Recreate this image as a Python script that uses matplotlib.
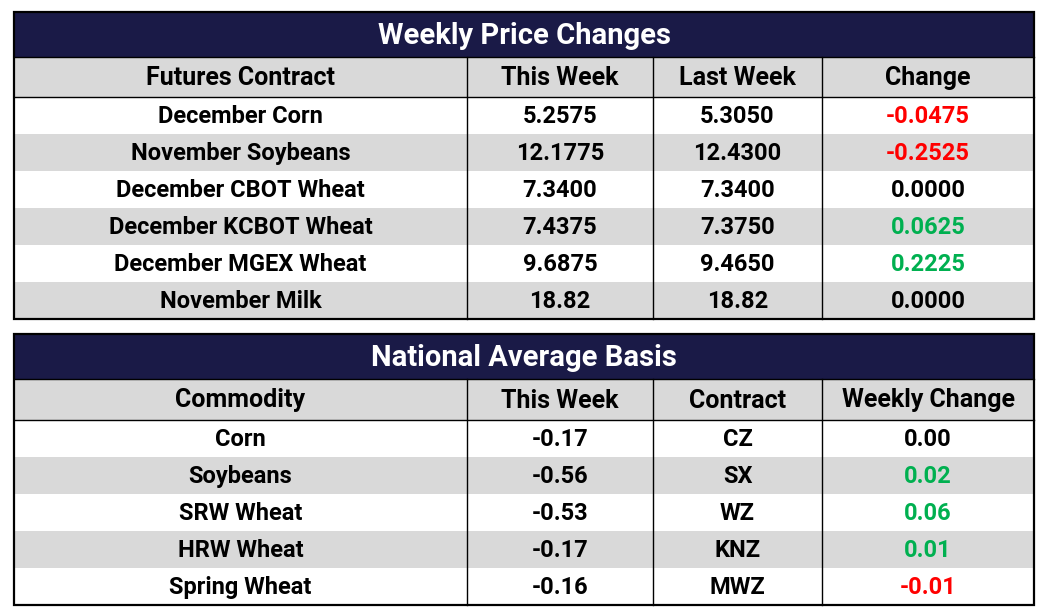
import matplotlib
matplotlib.use('Agg')
import matplotlib.pyplot as plt
from matplotlib.patches import Rectangle
from matplotlib import font_manager

NAVY  = '#1a1a47'
GRAY  = '#d9d9d9'
RED   = '#ff0000'
GREEN = '#00b050'

## table 1: weekly price changes
price_title   = 'Weekly Price Changes'
price_header  = ['Futures Contract', 'This Week', 'Last Week', 'Change']
contracts     = ['December Corn', 'November Soybeans', 'December CBOT Wheat',
                 'December KCBOT Wheat', 'December MGEX Wheat', 'November Milk']
this_week     = ['5.2575', '12.1775', '7.3400', '7.4375', '9.6875', '18.82']
last_week     = ['5.3050', '12.4300', '7.3400', '7.3750', '9.4650', '18.82']
price_change  = ['-0.0475', '-0.2525', '0.0000', '0.0625', '0.2225', '0.0000']

## table 2: national average basis
basis_title   = 'National Average Basis'
basis_header  = ['Commodity', 'This Week', 'Contract', 'Weekly Change']
commodities   = ['Corn', 'Soybeans', 'SRW Wheat', 'HRW Wheat', 'Spring Wheat']
basis_now     = ['-0.17', '-0.56', '-0.53', '-0.17', '-0.16']
basis_contract= ['CZ', 'SX', 'WZ', 'KNZ', 'MWZ']
basis_change  = ['0.00', '0.02', '0.06', '0.01', '-0.01']

names = {f.name for f in font_manager.fontManager.ttflist}
FONT = 'Liberation Sans Narrow' if 'Liberation Sans Narrow' in names else 'Roboto'

COL_X = [14, 467, 653, 822, 1034]

def change_color(v):
    x = float(v)
    if x > 0:
        return GREEN
    if x < 0:
        return RED
    return 'black'

def draw_table(ax, top, title, header, rows, title_h=45, head_h=40, row_h=37):
    x0, x1 = COL_X[0], COL_X[-1]
    n = len(rows)
    bottom = top + title_h + head_h + n*row_h
    # title band
    ax.add_patch(Rectangle((x0, top), x1-x0, title_h, color=NAVY, lw=0))
    ax.text((x0+x1)/2, top+title_h/2+1, title, color='white', fontsize=21,
            fontweight='bold', family=FONT, ha='center', va='center')
    # header band
    y = top + title_h
    ax.add_patch(Rectangle((x0, y), x1-x0, head_h, color=GRAY, lw=0))
    for i, h in enumerate(header):
        ax.text((COL_X[i]+COL_X[i+1])/2, y+head_h/2+1, h, fontsize=18,
                fontweight='bold', family=FONT, ha='center', va='center')
    # data rows
    y += head_h
    for r, row in enumerate(rows):
        yy = y + r*row_h
        if r % 2 == 1:
            ax.add_patch(Rectangle((x0, yy), x1-x0, row_h, color=GRAY, lw=0))
        for i, val in enumerate(row):
            c = change_color(val) if i == 3 else 'black'
            ax.text((COL_X[i]+COL_X[i+1])/2, yy+row_h/2+1, val, fontsize=17,
                    fontweight='bold', family=FONT, color=c, ha='center', va='center')
    # lines
    ax.plot([x0, x1], [top+title_h]*2, color='black', lw=1)
    ax.plot([x0, x1], [top+title_h+head_h]*2, color='black', lw=1)
    for cx in COL_X[1:-1]:
        ax.plot([cx, cx], [top+title_h, bottom], color='black', lw=1)
    ax.add_patch(Rectangle((x0, top), x1-x0, bottom-top, fill=False,
                           edgecolor='black', lw=1.6))

fig = plt.figure(figsize=(10.48, 6.16), dpi=100)
ax = fig.add_axes([0, 0, 1, 1])
ax.set_xlim(0, 1048)
ax.set_ylim(616, 0)
ax.axis('off')

price_rows = list(zip(contracts, this_week, last_week, price_change))
basis_rows = list(zip(commodities, basis_now, basis_contract, basis_change))
draw_table(ax, 12, price_title, price_header, price_rows)
draw_table(ax, 334, basis_title, basis_header, basis_rows, title_h=45, head_h=41)

fig.savefig('out.png', dpi=100)
